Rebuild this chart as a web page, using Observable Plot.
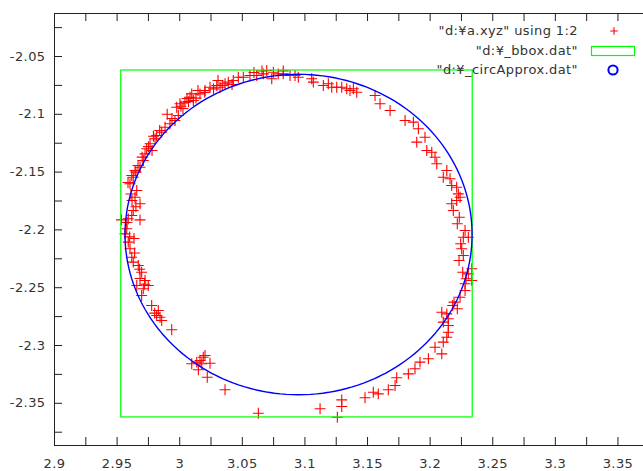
<!DOCTYPE html>
<html>
<head>
<meta charset="utf-8">
<script src="https://cdn.jsdelivr.net/npm/d3@7"></script>
<script src="https://cdn.jsdelivr.net/npm/@observablehq/plot@0.6"></script>
<style>
  html, body { margin: 0; padding: 0; background: #fff; }
  #wrap { position: relative; width: 643px; height: 471px; overflow: hidden; }
  #wrap svg text { letter-spacing: 0.4px; }
  #legend { position: absolute; top: 0; left: 0; width: 643px; height: 90px; pointer-events: none;
            font-family: "DejaVu Sans", sans-serif; font-size: 13px; color: #333; letter-spacing: 0.4px; }
  .lrow { position: absolute; right: 65px; white-space: nowrap; line-height: 16px; }
</style>
</head>
<body>
<div id="wrap"><div id="legend"></div></div>
<script>
// ---- data ----
const xDomain = [2.9, 3.3704];
const yDomain = [-2.3865, -2.0128];
const xTickLabels = [2.9, 2.95, 3, 3.05, 3.1, 3.15, 3.2, 3.25, 3.3, 3.35];
const yTickLabels = [-2.05, -2.1, -2.15, -2.2, -2.25, -2.3, -2.35];
const xTickMarks = [2.925, 2.95, 2.975, 3, 3.025, 3.05, 3.075, 3.1, 3.125, 3.15, 3.175, 3.2, 3.225, 3.25, 3.275, 3.3, 3.325, 3.35];
const yTickMarks = [-2.025, -2.05, -2.075, -2.1, -2.125, -2.15, -2.175, -2.2, -2.225, -2.25, -2.275, -2.3, -2.325, -2.35, -2.375];
const legendLabels = ['"d:¥a.xyz" using 1:2', '"d:¥_bbox.dat"', '"d:¥_circApprox.dat"'];

// "d:\a.xyz" using 1:2
const points = [
[2.9617,-2.1529],[2.9643,-2.1486],[2.9683,-2.1458],[2.9709,-2.1400],[2.9723,-2.1342],[2.9736,-2.1298],[2.9763,-2.1255],[2.9803,-2.1212],[2.9816,-2.1183],[2.9856,-2.1155],[2.9883,-2.1112],[2.9922,-2.1082],[2.9962,-2.1054],[2.9989,-2.1010],[2.9976,-2.0939],[3.0002,-2.0909],[3.0042,-2.0895],[3.0082,-2.0852],[3.0109,-2.0881],[3.0096,-2.0823],[3.0162,-2.0823],[3.0202,-2.0794],[3.0242,-2.0766],[3.0296,-2.0751],[3.0322,-2.0766],[3.0362,-2.0736],[3.0388,-2.0722],[3.0428,-2.0708],[3.0468,-2.0679],[3.0508,-2.0679],[3.0561,-2.0664],[3.0615,-2.0664],[3.0668,-2.0650],[3.0695,-2.0621],[3.0735,-2.0693],[3.0748,-2.0636],[3.0787,-2.0650],[3.0827,-2.0650],[3.0881,-2.0664],[3.0921,-2.0664],
[3.0947,-2.0679],[3.1054,-2.0693],[3.1067,-2.0722],[3.1147,-2.0751],[3.1187,-2.0736],[3.1214,-2.0766],[3.1254,-2.0766],[3.1294,-2.0766],[3.1334,-2.0779],[3.1360,-2.0794],[3.1387,-2.0779],[3.1414,-2.0809],[3.1560,-2.0837],[3.1600,-2.0909],[3.1680,-2.0967],[3.1800,-2.1054],[3.1866,-2.1068],[3.1906,-2.1125],[3.1959,-2.1198],[3.1893,-2.1241],[3.1973,-2.1313],[3.2013,-2.1328],[3.2039,-2.1371],[3.2053,-2.1428],[3.2133,-2.1486],[3.2105,-2.1544],[3.2159,-2.1558],[3.2172,-2.1616],[3.2212,-2.1631],[3.2225,-2.1688],[3.2239,-2.1717],
[3.2212,-2.1746],[3.2172,-2.1774],[3.2185,-2.1832],[3.2233,-2.1890],[3.2217,-2.1947],[3.2279,-2.2005],[3.2265,-2.2063],[3.2305,-2.2063],[3.2244,-2.2120],[3.2252,-2.2163],[3.2265,-2.2221],[3.2231,-2.2265],[3.2332,-2.2336],[3.2260,-2.2366],[3.2305,-2.2380],[3.2287,-2.2423],[3.2332,-2.2438],[3.2279,-2.2466],[3.2279,-2.2524],[3.2239,-2.2582],[3.2191,-2.2625],[3.2217,-2.2682],[3.2180,-2.2654],[3.2093,-2.2712],[3.2133,-2.2726],[3.2145,-2.2769],[3.2105,-2.2798],[3.2145,-2.2827],
[3.2145,-2.2885],[3.2133,-2.2928],[3.2105,-2.2971],[3.2039,-2.3015],[3.2093,-2.3072],[3.1986,-2.3115],[3.1919,-2.3144],[3.1879,-2.3201],[3.1826,-2.3245],[3.1733,-2.3279],[3.1720,-2.3346],[3.1666,-2.3383],[3.1586,-2.3418],[3.1546,-2.3404],[3.1480,-2.3452],[3.1294,-2.3470],[3.1294,-2.3528],[3.1121,-2.3547],[3.1259,-2.3620],
[2.9936,-2.2864],[3.0096,-2.3158],[3.0136,-2.3144],[3.0162,-2.3130],[3.0188,-2.3101],[3.0202,-2.3086],[3.0176,-2.3158],[3.0149,-2.3210],[3.0242,-2.3153],[3.0220,-2.3274],[3.0362,-2.3383],[3.0628,-2.3586],
[2.9629,-2.1544],[2.9603,-2.1601],[2.9657,-2.1659],[2.9643,-2.1717],[2.9683,-2.1774],[2.9629,-2.1832],[2.9617,-2.1875],[2.9535,-2.1913],[2.9589,-2.1904],[2.9683,-2.1913],[2.9577,-2.1990],[2.9563,-2.2034],[2.9589,-2.2106],[2.9603,-2.2163],[2.9617,-2.2236],[2.9629,-2.2279],[2.9669,-2.2308],[2.9696,-2.2366],[2.9723,-2.2438],[2.9749,-2.2481],[2.9657,-2.2481],[2.9709,-2.2509],[2.9696,-2.2567],[2.9776,-2.2654],[2.9829,-2.2697],[2.9843,-2.2755],[2.9816,-2.2740],[2.9856,-2.2784],
[3.0026,-2.0950],[3.0058,-2.0863],[2.9938,-2.1036],[2.9779,-2.1313],[2.9667,-2.1443],[2.9587,-2.1590],[2.9619,-2.1746],[2.9579,-2.1936],[2.9635,-2.2074],[2.9683,-2.2420],[3.0657,-2.0625],[3.0827,-2.0624],[3.0593,-2.0638],[3.0418,-2.0742],[3.0306,-2.0708],[3.0146,-2.0794],
[2.9650,-2.1500],[2.9700,-2.1370],[2.9750,-2.1280],[2.9790,-2.1190],[2.9840,-2.1140],[2.9900,-2.1000],[3.0010,-2.0930],[3.0070,-2.0890],[3.0130,-2.0860],[3.0200,-2.0810],[3.0270,-2.0780],[3.0340,-2.0750],[2.9610,-2.1690],[2.9650,-2.1800],[2.9600,-2.2060],[2.9640,-2.2200],[2.9680,-2.2340],[2.9720,-2.2470],[2.9800,-2.2720]
];

// "d:\_bbox.dat"  (x1, x2, y1, y2)
const bbox = [{x1: 2.9533, x2: 3.2340, y1: -2.3622, y2: -2.0621}];

// "d:\_circApprox.dat"  (center x, center y, radius)
const circCenter = [3.0949, -2.2040];
const circRadius = [0.1386];

// ---- build ----
const circle = d3.range(0, 361, 2).map(a => {
  const t = a * Math.PI / 180;
  return [circCenter[0] + circRadius[0] * Math.cos(t), circCenter[1] + circRadius[0] * Math.sin(t)];
});

const W = 643, H = 471, mL = 54, mT = 13, mB = 26, mR = 0;
const innerW = W - mL - mR, innerH = H - mT - mB, tick = 8;
const fmt = d => String(+d.toFixed(3));
const axisColor = "#222";

const chart = Plot.plot({
  width: W, height: H,
  marginLeft: mL, marginRight: mR, marginTop: mT, marginBottom: mB,
  x: {domain: xDomain},
  y: {domain: yDomain},
  style: {fontFamily: "DejaVu Sans, sans-serif", fontSize: "13px", color: "#333", background: "#fff", overflow: "hidden"},
  marks: [
    Plot.dot(points, {x: d => d[0], y: d => d[1], symbol: "plus", r: 3.6, stroke: "#ff0000", strokeWidth: 1.1}),
    Plot.rect(bbox, {x1: "x1", x2: "x2", y1: "y1", y2: "y2", fill: "none", stroke: "#00ff00", strokeWidth: 1.2}),
    Plot.line(circle, {x: d => d[0], y: d => d[1], stroke: "#0000ff", strokeWidth: 1.4}),
    // border
    Plot.ruleY([yDomain[0]], {stroke: axisColor}),
    Plot.ruleY([yDomain[1]], {stroke: axisColor}),
    Plot.ruleX([xDomain[0]], {stroke: axisColor}),
    // inward tick marks
    Plot.ruleX(xTickMarks, {x: d => d, insetTop: innerH - tick, stroke: axisColor}),
    Plot.ruleX(xTickMarks, {x: d => d, insetBottom: innerH - tick, stroke: axisColor}),
    Plot.ruleY(yTickMarks, {y: d => d, insetRight: innerW - tick, stroke: axisColor}),
    // labels
    Plot.axisX({ticks: xTickLabels, tickSize: 0, tickPadding: 13, tickFormat: fmt, fill: "#333"}),
    Plot.axisY({ticks: yTickLabels, tickSize: 0, tickPadding: 9, tickFormat: fmt, fill: "#333"})
  ]
});
document.getElementById("wrap").prepend(chart);

// legend (gnuplot key, top right inside the plot)
const legend = document.getElementById("legend");
const rowsY = [31, 51, 70];
const symbols = [
  '<svg width="12" height="12" style="position:absolute;left:608px;top:25px"><path d="M6 2.2V9.8M2.2 6H9.8" stroke="#ff0000" stroke-width="1.1"/></svg>',
  '<svg width="46" height="12" style="position:absolute;left:590px;top:45px"><rect x="1.5" y="1.5" width="43" height="9" fill="none" stroke="#00ff00" stroke-width="1.2"/></svg>',
  '<svg width="14" height="14" style="position:absolute;left:606px;top:63px"><circle cx="7" cy="7" r="4.6" fill="none" stroke="#0000ff" stroke-width="2"/></svg>'
];
legendLabels.forEach((lab, i) => {
  const d = document.createElement("div");
  d.className = "lrow";
  d.style.top = (rowsY[i] - 8) + "px";
  d.textContent = lab;
  legend.appendChild(d);
  legend.insertAdjacentHTML("beforeend", symbols[i]);
});
</script>
</body>
</html>
